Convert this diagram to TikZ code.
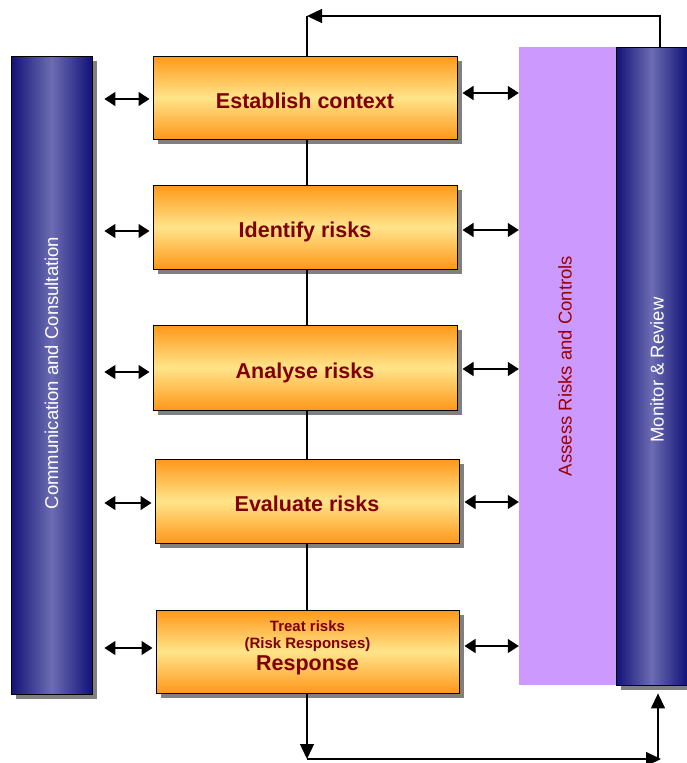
\documentclass[tikz,border=0pt]{standalone}
\usepackage{fontspec}
\setmainfont{Liberation Sans}
\usetikzlibrary{arrows.meta,shadows,calc}
\definecolor{boxorange}{HTML}{FF981A}
\definecolor{boxyellow}{HTML}{FFE48A}
\definecolor{navyedge}{HTML}{121278}
\definecolor{navymid}{HTML}{6C6CB2}
\definecolor{lilac}{HTML}{CC99FF}
\definecolor{txtred}{HTML}{800000}
\definecolor{asstxt}{HTML}{990000}
\definecolor{shadowgray}{HTML}{808080}
\begin{document}
\begin{tikzpicture}[x=1pt,y=-1pt,
  shadowed/.style={drop shadow={shadow xshift=5pt,shadow yshift=-5pt,fill=shadowgray,opacity=1}},
  stepbox/.style={shadowed, draw=black, line width=1pt, top color=boxorange, bottom color=boxorange, middle color=boxyellow, minimum width=304pt, minimum height=84pt, inner sep=0pt, font=\fontsize{21.5}{24}\selectfont\bfseries, text=txtred, align=center},
  oneline/.style={text height=24pt, text depth=3pt},
  bluebar/.style={shadowed, draw=black, line width=0.8pt, left color=navyedge, right color=navyedge, middle color=navymid, inner sep=0pt},
  barlabel/.style={rotate=90, font=\fontsize{18.5}{20}\selectfont},
  conn/.style={draw=black, line width=1.3pt},
  flow/.style={conn, -{Triangle[length=15pt,width=14pt]}},
  dbl/.style={conn, {Triangle[length=11pt,width=14pt]}-{Triangle[length=11pt,width=14pt]}}
]
\useasboundingbox (0,0) rectangle (687,763);

% side bars
\node[bluebar, minimum width=81pt, minimum height=638pt] (comm) at (51.5,375) {};
\node[barlabel, text=white] at ([yshift=2pt]comm.center) {Communication and Consultation};
\node[fill=lilac, inner sep=0pt, minimum width=97pt, minimum height=638pt] (lil) at (567.5,366) {};
\node[barlabel, text=asstxt] at ([xshift=-2.5pt]lil.center) {Assess Risks and Controls};
\node[bluebar, minimum width=71pt, minimum height=638pt] (mon) at (651.5,366) {};
\node[barlabel, text=white] at ([xshift=5.5pt,yshift=-4pt]mon.center) {Monitor \& Review};

% step boxes
\node[stepbox, oneline, minimum height=83pt] (ctx) at (305,97.5) {Establish context};
\node[stepbox, oneline] (idt) at (305,227) {Identify risks};
\node[stepbox, oneline, minimum height=85pt] (ana) at (305,367.5) {Analyse risks};
\node[stepbox, oneline] (eva) at (307,501) {Evaluate risks};
\node[stepbox, text depth=12.5pt, minimum width=303pt, minimum height=83pt] (trt) at (307.5,651.5)
  {\fontsize{15}{22}\selectfont Treat risks\\[-7pt]\fontsize{15}{22}\selectfont (Risk Responses)\\[-2pt]\fontsize{21.5}{22}\selectfont Response};

% spine
\coordinate (spine) at (307,0);
\draw[conn] (ctx.south -| spine) -- (idt.north -| spine);
\draw[conn] (idt.south -| spine) -- (ana.north -| spine);
\draw[conn] (ana.south -| spine) -- (eva.north -| spine);
\draw[conn] (eva.south -| spine) -- (trt.north -| spine);

% top loop
\coordinate (topl) at (307,16);
\coordinate (topr) at (660,16);
\draw[conn] (ctx.north -| spine) -- (topl);
\draw[flow] (mon.north -| topr) -- (topr) -- (topl);

% bottom loop
\coordinate (botl) at (307,759);
\coordinate (botr) at (658,759);
\coordinate (botrt) at (661,759);
\draw[flow] (trt.south -| spine) -- (botl);
\draw[flow] (botl) -- (botrt);
\draw[flow, shorten >=8pt] (botr) -- (mon.south -| botr);

% double arrows
\foreach \b/\l/\r in {ctx/1.5/-4.5, idt/4/3, ana/4.5/1.5, eva/2/1, trt/-3.5/-5.5}{
  \coordinate (L) at ([yshift=-\l pt]\b.west);
  \coordinate (R) at ([yshift=-\r pt]\b.east);
  \draw[dbl, shorten <=12pt, shorten >=3pt] (L -| comm.east) -- (L);
  \draw[dbl, shorten <=5pt] (R) -- (R -| lil.west);
}
\end{tikzpicture}
\end{document}
